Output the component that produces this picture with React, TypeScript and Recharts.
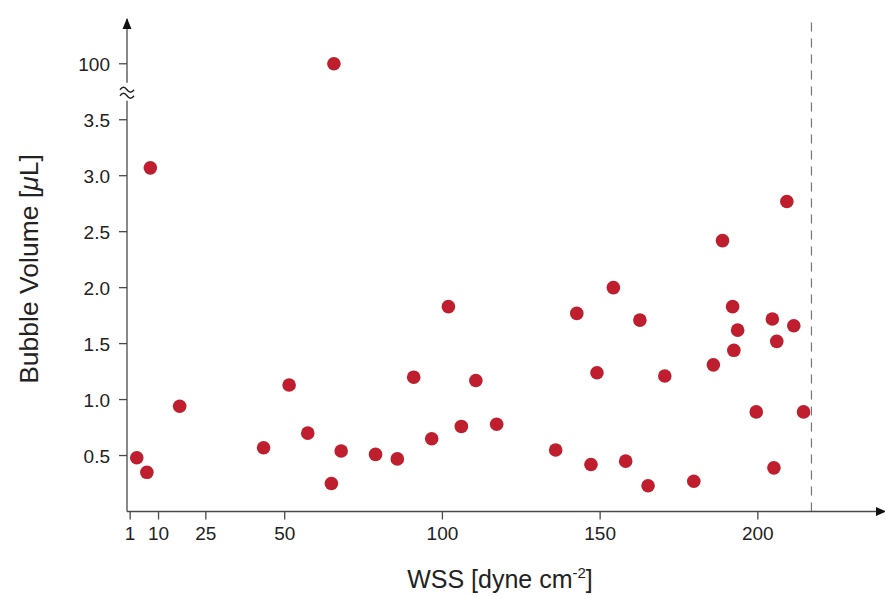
import { ScatterChart, Scatter, XAxis, YAxis, ReferenceLine, ReferenceDot } from 'recharts'

// Bubble volume vs wall shear stress
const wss = [
  3.1, 6.3, 7.4, 16.7, 43.3, 51.4, 57.3, 64.8, 65.6, 67.9,
  78.8, 85.7, 90.9, 96.6, 101.9, 106.0, 110.6, 117.2, 135.9, 142.6,
  147.1, 149.0, 154.2, 158.1, 162.6, 165.2, 170.5, 179.7, 185.9, 188.8,
  192.0, 192.4, 193.6, 199.5, 204.6, 205.1, 206.0, 209.2, 211.4, 214.5,
]
const volume = [
  0.48, 0.35, 3.07, 0.94, 0.57, 1.13, 0.70, 0.25, 100, 0.54,
  0.51, 0.47, 1.20, 0.65, 1.83, 0.76, 1.17, 0.78, 0.55, 1.77,
  0.42, 1.24, 2.0, 0.45, 1.71, 0.23, 1.21, 0.27, 1.31, 2.42,
  1.83, 1.44, 1.62, 0.89, 1.72, 0.39, 1.52, 2.77, 1.66, 0.89,
]

const xTicks = [1, 10, 25, 50, 100, 150, 200]
const yTicks = [0.5, 1.0, 1.5, 2.0, 2.5, 3.0, 3.5]
const outlierTick = 100
const limitWss = 217

// broken axis: everything above the break is drawn at one slot
const BREAK_AT = 3.75
const OUTLIER_POS = 4.0
const toAxis = (v: number) => (v > BREAK_AT ? OUTLIER_POS : v)

const data = wss.map((x, i) => ({ x, y: toAxis(volume[i]) }))

const FONT = '"Liberation Sans", Arial, Helvetica, sans-serif'
const AXIS = '#4a4a4a'
const RED = '#BF1E2E'

const Dot = (props: any) => <circle cx={props.cx} cy={props.cy} r={6.8} fill={RED} />

const YArrow = (props: any) => {
  const { cx, cy } = props
  return <polygon points={`${cx},${cy - 1} ${cx - 4.5},${cy + 10} ${cx + 4.5},${cy + 10}`} fill="#111" />
}

const XArrow = (props: any) => {
  const { cx, cy } = props
  return <polygon points={`${cx + 2},${cy} ${cx - 8},${cy - 4.5} ${cx - 8},${cy + 4.5}`} fill="#111" />
}

const BreakMark = (props: any) => {
  const { cx, cy } = props
  return (
    <g>
      <rect x={cx - 8} y={cy - 9} width={16} height={18} fill="#fff" />
      <path d={`M${cx - 7},${cy - 2} q3.5,-5 7,0 t7,0`} fill="none" stroke="#222" strokeWidth={1.4} />
      <path d={`M${cx - 7},${cy + 4} q3.5,-5 7,0 t7,0`} fill="none" stroke="#222" strokeWidth={1.4} />
    </g>
  )
}

const XTick = (props: any) => {
  const { x, y, payload } = props
  return (
    <text x={x} y={y + 14} textAnchor="middle" fontSize={19} fill="#222" fontFamily={FONT}>
      {payload.value}
    </text>
  )
}

const YTick = (props: any) => {
  const { x, y, payload } = props
  const v = payload.value as number
  return (
    <text x={x} y={y + 7} textAnchor="end" fontSize={19} fill="#222" fontFamily={FONT}>
      {v === OUTLIER_POS ? String(outlierTick) : v.toFixed(1)}
    </text>
  )
}

export default function App() {
  return (
    <div style={{ width: 885, height: 596, background: '#fff', fontFamily: FONT }}>
      <style>{'body{margin:0}'}</style>
      <ScatterChart width={885} height={596} margin={{ top: 19, right: 1, bottom: 0, left: 0 }}>
        <XAxis
          type="number"
          dataKey="x"
          domain={[0, 240]}
          ticks={xTicks}
          allowDataOverflow
          height={84.5}
          stroke={AXIS}
          strokeWidth={1.3}
          tickSize={8}
          tickMargin={6}
          tick={<XTick />}
          label={{
            content: () => (
              <text x={500} y={588} textAnchor="middle" fontSize={25} fill="#222" fontFamily={FONT}>
                WSS [dyne cm
                <tspan fontSize={15} dy={-10}>-2</tspan>
                <tspan dy={10}>]</tspan>
              </text>
            ),
          }}
        />
        <YAxis
          type="number"
          dataKey="y"
          domain={[0, 4.4]}
          ticks={[...yTicks, OUTLIER_POS]}
          allowDataOverflow
          width={127}
          stroke={AXIS}
          strokeWidth={1.3}
          tickSize={8}
          tickMargin={9}
          tick={<YTick />}
          label={{
            content: () => (
              <text
                x={38}
                y={269}
                transform="rotate(-90 38 269)"
                textAnchor="middle"
                fontSize={26.5}
                fill="#222"
                fontFamily={FONT}
              >
                Bubble Volume [<tspan fontStyle="italic">μ</tspan>L]
              </text>
            ),
          }}
        />
        <ReferenceLine x={limitWss} stroke="#777" strokeWidth={1.2} strokeDasharray="9 7" />
        <Scatter data={data} shape={<Dot />} isAnimationActive={false} />
        <ReferenceDot x={0} y={BREAK_AT} ifOverflow="visible" shape={<BreakMark />} />
        <ReferenceDot x={0} y={4.4} ifOverflow="visible" shape={<YArrow />} />
        <ReferenceDot x={240} y={0} ifOverflow="visible" shape={<XArrow />} />
      </ScatterChart>
    </div>
  )
}
